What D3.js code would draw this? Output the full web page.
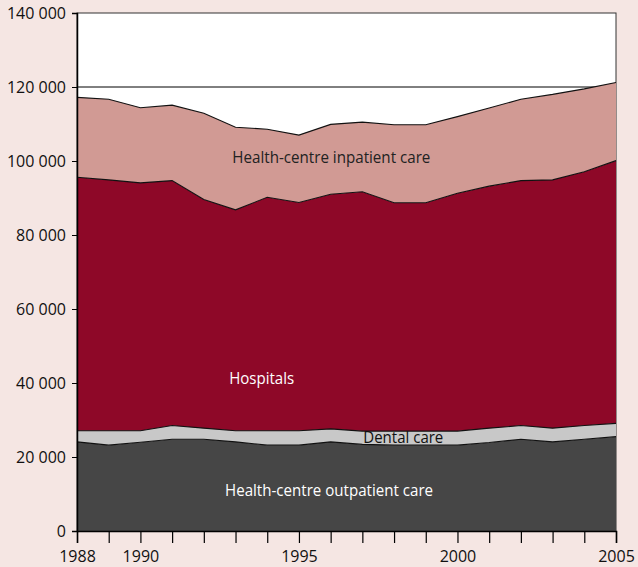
<!DOCTYPE html>
<html>
<head>
<meta charset="utf-8">
<script src="https://cdn.jsdelivr.net/npm/d3@7"></script>
<style>
  body { margin: 0; background: #f5e6e3; }
  svg { display: block; }
  text { font-family: "Open Sans", sans-serif; }
</style>
</head>
<body>
<div id="chart"></div>
<script>
const years = d3.range(1988, 2006);
const seriesNames = ["Health-centre outpatient care", "Dental care", "Hospitals", "Health-centre inpatient care"];
const outpatient = [24100, 23200, 24000, 24800, 24800, 24100, 23200, 23200, 24100, 23400, 23200, 23200, 23200, 23900, 24800, 24100, 24800, 25500];
const dental     = [3000, 3900, 3100, 3700, 3000, 3000, 3900, 3900, 3500, 3600, 3800, 3800, 3800, 3900, 3700, 3700, 3700, 3600];
const hospitals  = [68500, 67800, 67000, 66200, 61800, 59700, 63100, 61700, 63400, 64700, 61700, 61700, 64300, 65400, 66200, 67100, 68600, 71000];
const inpatient  = [21600, 21800, 20300, 20400, 23300, 22300, 18400, 18200, 18900, 18800, 21100, 21100, 20700, 21100, 22000, 23100, 22400, 21100];
const xTickLabels = [1988, 1990, 1995, 2000, 2005];
const yTicks = [0, 20000, 40000, 60000, 80000, 100000, 120000, 140000];

const W = 638, H = 567;
const margin = {top: 13, right: 22, bottom: 36, left: 77},
    width = W - margin.left - margin.right,
    height = H - margin.top - margin.bottom;

const colors = ["#464646", "#c8c8c8", "#8e0828", "#d19a94"];

const rows = years.map((y, i) => ({
    year: y,
    [seriesNames[0]]: outpatient[i],
    [seriesNames[1]]: dental[i],
    [seriesNames[2]]: hospitals[i],
    [seriesNames[3]]: inpatient[i]
}));

const svg = d3.select("#chart")
    .append("svg")
    .attr("width", W)
    .attr("height", H)
    .append("g")
    .attr("transform", "translate(" + margin.left + "," + margin.top + ")");

const x = d3.scaleLinear().domain([1988, 2005]).range([0, width]);
const y = d3.scaleLinear().domain([0, 140000]).range([height, 0]);

// plot background
svg.append("rect")
    .attr("width", width)
    .attr("height", height)
    .attr("fill", "#fff")
    .attr("stroke", "#333")
    .attr("stroke-width", 1);

// gridline at 120 000
svg.append("line")
    .attr("x1", 0).attr("x2", width)
    .attr("y1", y(120000)).attr("y2", y(120000))
    .attr("stroke", "#000")
    .attr("stroke-width", 1);

const stack = d3.stack().keys(seriesNames);
const layers = stack(rows);

const area = d3.area()
    .x(d => x(d.data.year))
    .y0(d => y(d[0]))
    .y1(d => y(d[1]));

const line = d3.line()
    .x(d => x(d.data.year))
    .y(d => y(d[1]));

svg.selectAll("path.layer")
    .data(layers)
    .enter()
    .append("path")
    .attr("class", "layer")
    .attr("d", area)
    .attr("fill", (d, i) => colors[i]);

svg.selectAll("path.edge")
    .data(layers)
    .enter()
    .append("path")
    .attr("class", "edge")
    .attr("d", line)
    .attr("fill", "none")
    .attr("stroke", "#111")
    .attr("stroke-width", 1.1);

// Axes
const xAxis = svg.append("g")
    .attr("transform", "translate(0," + height + ")")
    .call(d3.axisBottom(x)
        .tickValues(years)
        .tickSize(12)
        .tickPadding(8)
        .tickFormat(d => xTickLabels.includes(d) ? d : ""));
xAxis.selectAll("text")
    .style("font-size", "16px")
    .attr("fill", "#111");
xAxis.select(".domain").attr("stroke", "#000").attr("stroke-width", 1.5);
xAxis.selectAll(".tick line").attr("stroke", "#000").attr("stroke-width", 1.2);

const yAxis = svg.append("g")
    .call(d3.axisLeft(y)
        .tickValues(yTicks)
        .tickSize(5)
        .tickPadding(6)
        .tickFormat(d => d3.format(",")(d).replace(/,/g, " ")));
yAxis.selectAll("text")
    .style("font-size", "16px")
    .attr("fill", "#111");
yAxis.select(".domain").attr("stroke", "#000").attr("stroke-width", 1.5);

// Labels
const labels = [
    {text: "Health-centre inpatient care", x: 1992.9, v: 99500, fill: "#222", w: 198},
    {text: "Hospitals", x: 1992.8, v: 39700, fill: "#fff", w: 65},
    {text: "Dental care", x: 1997.03, v: 23800, fill: "#111", w: 80},
    {text: "Health-centre outpatient care", x: 1992.67, v: 9450, fill: "#fff", w: 208}
];
svg.selectAll("text.lbl")
    .data(labels)
    .enter()
    .append("text")
    .attr("class", "lbl")
    .attr("x", d => x(d.x))
    .attr("y", d => y(d.v))
    .attr("fill", d => d.fill)
    .attr("textLength", d => d.w)
    .attr("lengthAdjust", "spacingAndGlyphs")
    .style("font-size", "16.5px")
    .text(d => d.text);
</script>
</body>
</html>
